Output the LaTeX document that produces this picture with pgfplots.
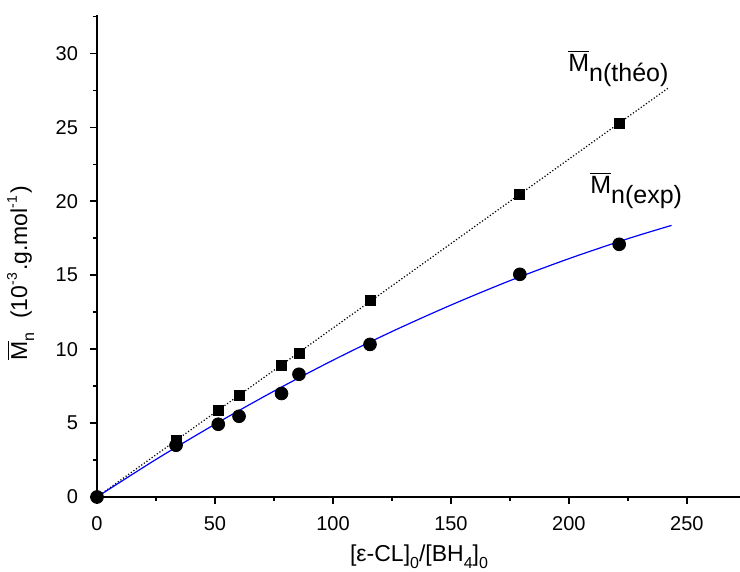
\documentclass[border=0pt]{standalone}
\usepackage{pgfplots}
\pgfplotsset{compat=1.18}
\usepackage{fontspec}
\setmainfont{Liberation Sans}

\newcommand{\lo}[1]{\raisebox{-3.5pt}{\fontsize{8}{9}\selectfont #1}}
\newcommand{\hi}[1]{\raisebox{5pt}{\fontsize{7}{8}\selectfont #1}}

\begin{document}
\begin{tikzpicture}
\begin{axis}[
    at={(0,0)}, anchor=origin,
    scale only axis,
    width=321.5pt, height=241pt,
    xmin=0, xmax=272.5,
    ymin=0, ymax=32.6,
    axis x line=bottom, axis y line=left,
    axis line style={-, line width=1pt},
    xtick={0,50,...,250}, ytick={0,5,...,30},
    minor xtick={25,75,...,275}, minor ytick={2.5,7.5,...,32.5},
    tick align=outside,
    major tick length=3.5pt, minor tick length=2pt,
    every tick/.style={black, line width=0.8pt},
    tick label style={font=\fontsize{10}{12}\selectfont},
    /pgf/number format/assume math mode=true,
    xticklabel style={yshift=-2.5pt},
    yticklabel style={xshift=-2.5pt},
    clip=false,
]
% theoretical Mn (line + squares)
\addplot[black, densely dotted, line width=0.6pt] coordinates {(0,0) (242,27.65)};
\addplot[only marks, mark=square*, mark size=2.5pt, black] coordinates {
    (33.5,3.84) (51.4,5.87) (60.2,6.84) (78.2,8.92) (85.6,9.73)
    (116,13.3) (179.2,20.47) (221.3,25.28)
};
% experimental fit
\addplot[blue, line width=0.6pt, smooth] coordinates {
    (0,0) (25,2.54) (50,4.92) (75,7.16) (100,9.25) (125,11.19)
    (150,12.98) (175,14.63) (200,16.12) (225,17.47) (243.5,18.37)
};
% experimental Mn
\addplot[only marks, mark=*, mark size=3.2pt, black] coordinates {
    (0,0) (33.5,3.5) (51.4,4.92) (60.2,5.46) (78.2,7.0) (85.6,8.3)
    (115.7,10.32) (179.2,15.06) (221.3,17.09)
};
\node[anchor=base west, inner sep=0, font=\fontsize{12.5}{14}\selectfont]
    at (axis cs:199.6,28.77) {$\overline{\mbox{M}}$\raisebox{-5pt}{n(théo)}};
\node[anchor=base west, inner sep=0, font=\fontsize{12.5}{14}\selectfont]
    at (axis cs:208.9,20.54) {$\overline{\mbox{M}}$\raisebox{-5pt}{n(exp)}};
\end{axis}
\node[anchor=base, inner sep=0, font=\fontsize{11.5}{13}\selectfont]
    at (161pt,-32.3pt) {[ε-CL]\lo{0}/[BH\lo{4}]\lo{0}};
\node[anchor=base, rotate=90, inner sep=0, font=\fontsize{11.5}{13}\selectfont]
    at (-35pt,112pt) {$\overline{\mbox{M}}$\lo{n}\hspace{0.3em} (10\hi{-3}\hspace{0.1em}.g.mol\hi{-1}\hspace{0.1em})};
\pgfresetboundingbox
\path (-48.5pt,-37.5pt) rectangle (321.5pt,248.5pt);
\end{tikzpicture}
\end{document}
